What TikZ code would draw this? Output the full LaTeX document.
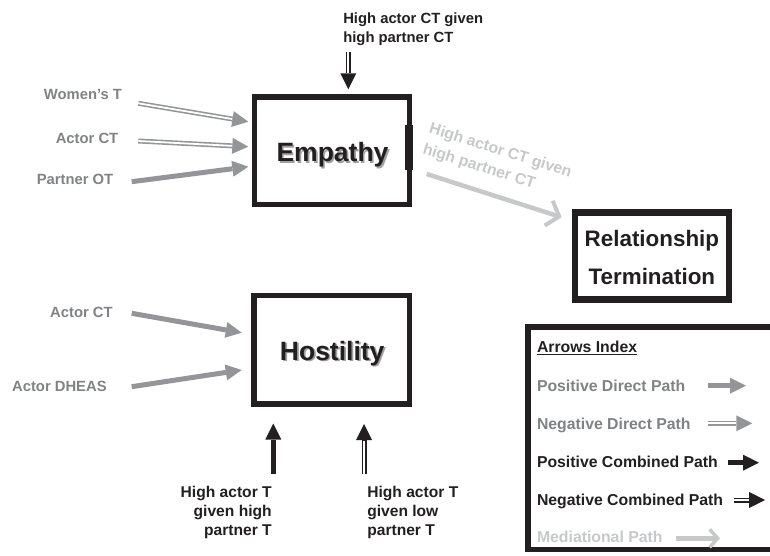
\documentclass[tikz,border=0pt]{standalone}
\usepackage{fontspec}
\setmainfont{Liberation Sans}
\usetikzlibrary{arrows.meta}
\definecolor{ink}{HTML}{231F20}
\definecolor{gtext}{HTML}{808285}
\definecolor{garrow}{HTML}{939598}
\definecolor{gmed}{HTML}{C7C8CA}
\definecolor{shad}{HTML}{A0A0A0}
\newcommand{\shadowtext}[1]{\makebox[0pt][l]{\hspace*{1.7pt}\raisebox{-1.9pt}{\textcolor{shad}{#1}}}#1}
\begin{document}
\begin{tikzpicture}[x=1pt,y=-1pt,
  every node/.style={inner sep=0pt,outer sep=0pt},
  lab/.style={text=gtext,font=\fontsize{14.8}{19}\selectfont\bfseries},
  toplab/.style={text=ink,font=\fontsize{14.8}{19.4}\selectfont\bfseries},
  botlab/.style={text=ink,font=\fontsize{15.6}{18.9}\selectfont\bfseries},
  leg/.style={font=\fontsize{15.8}{19}\selectfont\bfseries,anchor=base west},
  bigt/.style={font=\fontsize{26.5}{30}\selectfont\bfseries},
  boxa/.style={draw=ink,line width=5.5pt,fill=none},
  posd/.style={draw=garrow,line width=5pt,-{Triangle[length=16pt,width=16pt,line width=0pt]}},
  negd/.style={posd,postaction={draw=white,line width=1.8pt,arrows=-,shorten >=16.5pt}},
  posc/.style={posd,draw=ink},
  negc/.style={negd,draw=ink},
  med/.style={draw=gmed,line width=4.5pt,-{Straight Barb[length=11pt,width=26pt,line width=4pt]}}
]
\useasboundingbox (0,0) rectangle (770,556);
\clip (0,0) rectangle (770,556);

% boxes
\node[boxa,minimum width=155pt,minimum height=107.5pt] (emp) at (332,150.75) {};
\fill[ink] (405,125) rectangle (413.3,170);
\node[boxa,minimum width=155.5pt,minimum height=108.5pt] (hos) at (331.75,349.75) {};
\node[boxa,line width=6.5pt,minimum width=153.7pt,minimum height=87pt] (rt) at (651.9,256.2) {};
\node[boxa,minimum width=262pt,minimum height=222.5pt] (lg) at (659,438.25) {};

% box titles with shadow
\node[bigt,text=ink,anchor=base] (empT) at (332.5,161.7) {\shadowtext{Empathy}};
\node[bigt,text=ink,anchor=base] (hosT) at (332.2,360) {\shadowtext{Hostility}};
\node[text=ink,font=\fontsize{22.4}{37.6}\selectfont\bfseries,anchor=base,align=center] (rtT) at (651.9,284.3) {Relationship\\Termination};

% left labels
\node[lab,anchor=base east] (tW) at (122,100) {Women’s T};
\node[lab,anchor=base east] (tA1) at (118.3,144) {Actor CT};
\node[lab,anchor=base east] (tP) at (113.3,184) {Partner OT};
\node[lab,anchor=base east] (tA2) at (112.7,317.3) {Actor CT};
\node[lab,anchor=base east] (tD) at (106.7,391) {Actor DHEAS};

% top and bottom labels
\node[toplab,anchor=base west,align=left] (tTop) at (343.3,42.7) {High actor CT given\\high partner CT};
\node[botlab,anchor=base east,align=right] (tB1) at (271.7,535) {High actor T\\given high\hspace*{4.3pt}\\partner T};
\node[botlab,anchor=base west,align=left] (tB2) at (367.3,535) {High actor T\\given low\\partner T};

% mediational label
\node[text=gmed,font=\fontsize{15.7}{21.5}\selectfont\bfseries,rotate=-17.5,anchor=base west,align=left] (mlab) at (422,153.3) {High actor CT given\\high partner CT};

% coordinates
\coordinate (w0) at (138.3,103.3); \coordinate (w1) at (248.3,121.7);
\coordinate (a0) at (138.3,141);   \coordinate (a1) at (248.3,146.7);
\coordinate (p0) at (131.7,181.7); \coordinate (p1) at (248.3,166.7);
\coordinate (h0) at (131.7,313.3); \coordinate (h1) at (241.7,332.7);
\coordinate (d0) at (131.7,386.7); \coordinate (d1) at (241.7,370);
\coordinate (s0) at (273.3,474);   \coordinate (s1) at (273.3,423.5);
\coordinate (n0) at (364,474);     \coordinate (n1) at (364,424);
\coordinate (t0) at (348.3,52);    \coordinate (t1) at (348.3,89.3);
\coordinate (m0) at (426.7,174);   \coordinate (m1) at (561.7,217.3);

% connectors
\draw[negd] (w0) -- (w1);
\draw[negd] (a0) -- (a1);
\draw[posd] (p0) -- (p1);
\draw[posd] (h0) -- (h1);
\draw[posd] (d0) -- (d1);
\draw[posc] (s0) -- (s1);
\draw[negc] (n0) -- (n1);
\draw[negc] (t0) -- (t1);
\draw[med] (m0) -- (m1);

% legend
\node[leg,text=ink] (l0) at (537,352.7) {\underline{Arrows Index}};
\node[leg,text=gtext] (l1) at (537,391) {Positive Direct Path};
\node[leg,text=gtext] (l2) at (537,429.3) {Negative Direct Path};
\node[leg,text=ink] (l3) at (537,467.3) {Positive Combined Path};
\node[leg,text=ink] (l4) at (537,505) {Negative Combined Path};
\node[leg,text=gmed] (l5) at (537,542.7) {Mediational Path};

\coordinate (lp0) at (708,385.7);   \coordinate (lp1) at (746,385.7);
\coordinate (ln0) at (708,423.3);   \coordinate (ln1) at (752.3,423.3);
\coordinate (lc0) at (728.3,462.7); \coordinate (lc1) at (759,462.7);
\coordinate (lk0) at (734,500);     \coordinate (lk1) at (765,500);
\coordinate (lm0) at (676,538.3);   \coordinate (lm1) at (720,538.3);
\draw[posd] (lp0) -- (lp1);
\draw[negd] (ln0) -- (ln1);
\draw[posc] (lc0) -- (lc1);
\draw[negc] (lk0) -- (lk1);
\draw[med,-{Straight Barb[length=8pt,width=18pt,line width=3.5pt]}] (lm0) -- (lm1);
\end{tikzpicture}
\end{document}
